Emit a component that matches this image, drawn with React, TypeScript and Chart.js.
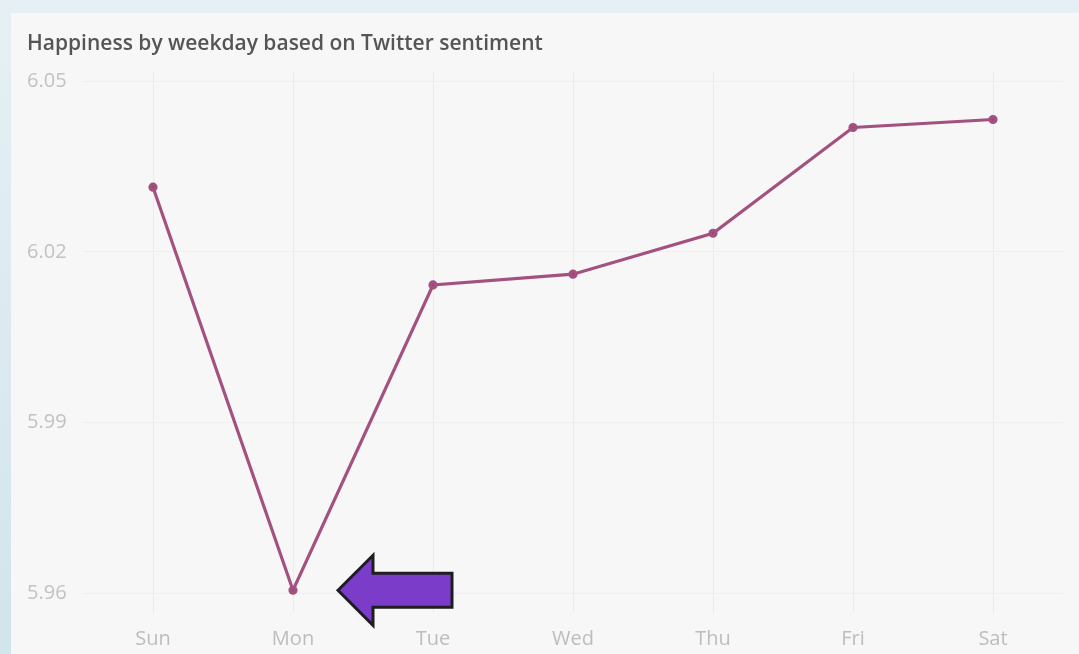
import React, { useEffect, useRef } from "react";
import { Chart, registerables } from "chart.js";

Chart.register(...registerables);

const TITLE = "Happiness by weekday based on Twitter sentiment";
const days = ["Sun", "Mon", "Tue", "Wed", "Thu", "Fri", "Sat"];
const happiness = [6.0314, 5.9605, 6.0142, 6.0161, 6.0233, 6.0419, 6.0433];
const yTicks = [5.96, 5.99, 6.02, 6.05];
const highlightDay = "Mon";

const FONT = "'Open Sans', Roboto, 'Liberation Sans', sans-serif";

const arrowPlugin = {
  id: "arrowNote",
  afterDatasetsDraw(chart: any) {
    const meta = chart.getDatasetMeta(0);
    const idx = days.indexOf(highlightDay);
    const pt = meta.data[idx];
    if (!pt) return;
    const ctx = chart.ctx;
    const tx = pt.x + 45;
    const ty = pt.y;
    ctx.save();
    ctx.beginPath();
    ctx.moveTo(tx, ty);
    ctx.lineTo(tx + 35, ty - 35);
    ctx.lineTo(tx + 35, ty - 17);
    ctx.lineTo(tx + 114, ty - 17);
    ctx.lineTo(tx + 114, ty + 17);
    ctx.lineTo(tx + 35, ty + 17);
    ctx.lineTo(tx + 35, ty + 35);
    ctx.closePath();
    ctx.fillStyle = "#7a3cc9";
    ctx.fill();
    ctx.lineWidth = 3;
    ctx.lineJoin = "miter";
    ctx.strokeStyle = "#1e1e1e";
    ctx.stroke();
    ctx.restore();
  },
};

export default function App() {
  const ref = useRef<HTMLCanvasElement | null>(null);

  useEffect(() => {
    document.body.style.margin = "0";
    if (!ref.current) return;
    const chart = new Chart(ref.current, {
      type: "line",
      data: {
        labels: days,
        datasets: [
          {
            data: happiness,
            borderColor: "#a3517f",
            backgroundColor: "#9a4a7a",
            borderWidth: 3.2,
            pointRadius: 3,
            pointHoverRadius: 3,
            tension: 0,
          },
        ],
      },
      options: {
        responsive: false,
        animation: false,
        layout: { padding: { left: 27, right: 16, top: 0, bottom: 6 } },
        plugins: {
          legend: { display: false },
          tooltip: { enabled: false },
          title: {
            display: true,
            text: TITLE,
            align: "start",
            color: "#555555",
            font: { family: FONT, size: 21, weight: "600" },
            padding: { top: 31, bottom: 15 },
          },
        },
        scales: {
          x: {
            offset: true,
            afterFit: (axis: any) => {
              axis.height = 35;
            },
            grid: { color: "#ececec", drawTicks: false, lineWidth: 1, offset: false },
            border: { display: false },
            ticks: {
              color: "#bdbdbd",
              padding: 14,
              font: { family: FONT, size: 20, weight: "400" },
            },
          },
          y: {
            min: 5.9565,
            max: 6.0518,
            afterBuildTicks: (axis: any) => {
              axis.ticks = yTicks.map((v) => ({ value: v }));
            },
            afterFit: (axis: any) => {
              axis.width = 56;
            },
            grid: { color: "#efefef", drawTicks: false },
            border: { display: false },
            ticks: {
              crossAlign: "far",
              color: "#c2c2c2",
              padding: 0,
              font: { family: FONT, size: 20, weight: "400" },
              callback: (v: any) => Number(v).toFixed(2),
            },
          },
        },
      },
      plugins: [arrowPlugin],
    });
    return () => chart.destroy();
  }, []);

  return (
    <div
      style={{
        position: "fixed",
        left: 0,
        top: 0,
        width: 1079,
        height: 654,
        background: "linear-gradient(to bottom, #e6f0f4, #d2e4ec)",
        overflow: "hidden",
      }}
    >
      <div
        style={{
          position: "absolute",
          left: 11,
          top: 13,
          width: 1068,
          height: 641,
          background: "#f7f7f7",
        }}
      />
      <canvas
        ref={ref}
        width={1079}
        height={654}
        style={{ position: "absolute", left: 0, top: 0, width: 1079, height: 654 }}
      />
    </div>
  );
}
